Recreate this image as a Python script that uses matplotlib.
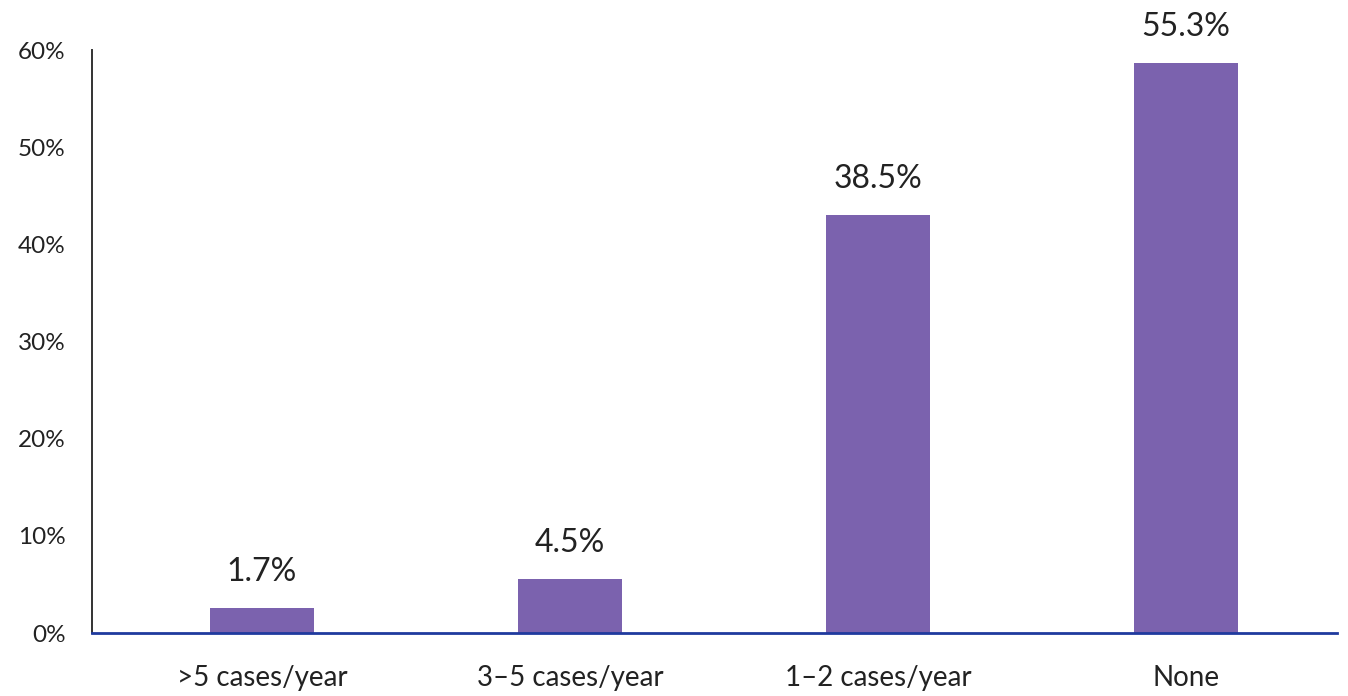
import numpy as np
import matplotlib.pyplot as plt

plt.rcParams['font.family'] = ['Lato', 'DejaVu Sans']

categories = ['>5 cases/year', '3–5 cases/year', '1–2 cases/year', 'None']
# bar heights as drawn in the picture
heights = [2.6, 5.6, 43.0, 58.7]
# printed value labels
value_labels = ['1.7%', '4.5%', '38.5%', '55.3%']
yticks = [0, 10, 20, 30, 40, 50, 60]

fig = plt.figure(figsize=(13.48, 6.96), dpi=100)
ax = fig.add_axes([0.0682, 0.0905, 0.9236, 0.8375])

x = np.arange(len(categories))
bars = ax.bar(x, heights, width=0.34, color='#7b62ae', zorder=2)

for b, lab in zip(bars, value_labels):
    ax.annotate(lab, (b.get_x() + b.get_width() / 2, b.get_height()),
                xytext=(0, 15), textcoords='offset points',
                ha='center', va='bottom', fontsize=23, color='#222222',
                annotation_clip=False)

ax.set_xlim(-0.552, 3.49)
ax.set_ylim(0, 60)
ax.set_yticks(yticks)
ax.set_yticklabels([f'{t}%' for t in yticks])
ax.set_xticks(x)
ax.set_xticklabels(categories)

ax.tick_params(axis='y', length=0, pad=19, labelsize=17.5, labelcolor='#222222')
ax.tick_params(axis='x', length=0, pad=23, labelsize=20, labelcolor='#222222')

ax.spines['top'].set_visible(False)
ax.spines['right'].set_visible(False)
ax.spines['left'].set_color('#333333')
ax.spines['left'].set_linewidth(1.4)
ax.spines['bottom'].set_color('#1f3a9e')
ax.spines['bottom'].set_linewidth(2)
ax.spines['bottom'].set_zorder(3)

fig.savefig('out.png', dpi=100)
